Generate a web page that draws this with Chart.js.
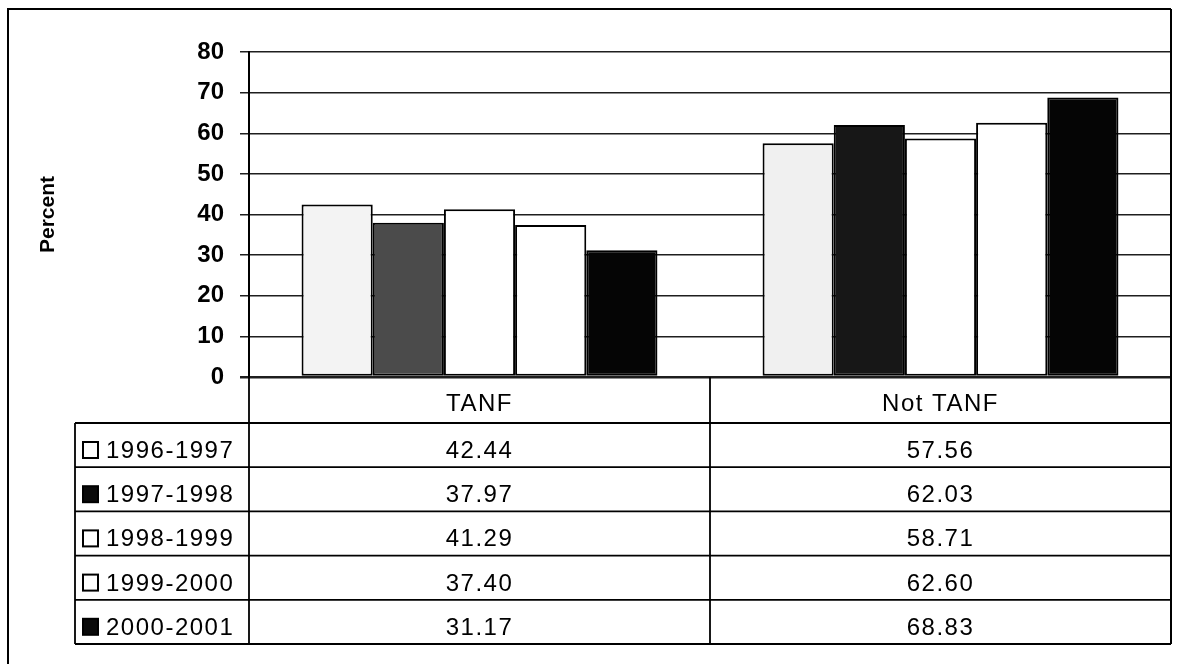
<!DOCTYPE html>
<html>
<head>
<meta charset="utf-8">
<script src="https://cdn.jsdelivr.net/npm/chart.js@4/dist/chart.umd.min.js"></script>
<style>
  html, body { margin: 0; padding: 0; background: #ffffff; }
  #wrap { width: 1180px; height: 664px; position: relative; }
</style>
</head>
<body>
<div id="wrap"><canvas id="chart" width="1180" height="664"></canvas></div>
<script>
// Categories and yearly series (percent)
const categories = ['TANF', 'Not TANF'];
const seriesNames = ['1996-1997', '1997-1998', '1998-1999', '1999-2000', '2000-2001'];
const y1996 = [42.44, 57.56];
const y1997 = [37.97, 62.03];
const y1998 = [41.29, 58.71];
const y1999 = [37.40, 62.60];
const y2000 = [31.17, 68.83];
const yTicks = [0, 10, 20, 30, 40, 50, 60, 70, 80];
const axisTitle = 'Percent';

const seriesValues = [y1996, y1997, y1998, y1999, y2000];

// Bar fills per series (per category where the print differs)
const fills = [
  ['#f3f3f3', '#f0f0f0'],
  ['#4b4b4b', '#171717'],
  ['#ffffff', '#ffffff'],
  ['#ffffff', '#ffffff'],
  ['#050505', '#050505']
];
// Swatch fills shown in the data table
const swatchFills = ['#ffffff', '#0a0a0a', '#ffffff', '#ffffff', '#0a0a0a'];

const FONT = '"Liberation Sans", Arial, sans-serif';
const HEADER_H = 46;
const ROW_H = 44.2;
const TABLE_LEFT = 75;

const tablePlugin = {
  id: 'dataTable',
  afterDraw(chart) {
    const ctx = chart.ctx;
    const area = chart.chartArea;
    const xs = chart.scales.x;
    const left = area.left, right = area.right, top = area.bottom;
    const mid = (xs.getPixelForValue(0) + xs.getPixelForValue(1)) / 2;
    const tableBottom = top + HEADER_H + ROW_H * seriesNames.length;

    ctx.save();
    ctx.strokeStyle = '#000';
    ctx.lineWidth = 2;

    // outer frame
    ctx.beginPath();
    ctx.moveTo(8, 664); ctx.lineTo(8, 9); ctx.lineTo(1171, 9);
    ctx.moveTo(1171, 9); ctx.lineTo(1171, tableBottom);
    ctx.stroke();

    // plot right edge
    ctx.beginPath();
    ctx.moveTo(right, area.top); ctx.lineTo(right, area.bottom);
    ctx.stroke();

    // table grid
    ctx.lineWidth = 1.8;
    ctx.beginPath();
    [left, mid, right].forEach(x => { ctx.moveTo(x, top); ctx.lineTo(x, tableBottom); });
    ctx.moveTo(TABLE_LEFT, top + HEADER_H); ctx.lineTo(TABLE_LEFT, tableBottom);
    for (let i = 0; i <= seriesNames.length; i++) {
      const y = top + HEADER_H + ROW_H * i;
      ctx.moveTo(TABLE_LEFT, y); ctx.lineTo(right, y);
    }
    ctx.stroke();

    // header labels
    ctx.fillStyle = '#000';
    ctx.font = '24px ' + FONT;
    ctx.letterSpacing = '1.5px';
    ctx.textAlign = 'center';
    ctx.textBaseline = 'alphabetic';
    categories.forEach((c, i) => {
      ctx.fillText(c, xs.getPixelForValue(i), top + 34);
    });

    // rows: swatch, series name, values
    seriesNames.forEach((name, r) => {
      const rowTop = top + HEADER_H + ROW_H * r;
      const base = rowTop + 35;
      // swatch
      ctx.fillStyle = swatchFills[r];
      ctx.fillRect(83, rowTop + 19, 15, 16);
      ctx.lineWidth = 2;
      ctx.strokeStyle = '#000';
      ctx.strokeRect(83, rowTop + 19, 15, 16);
      // name
      ctx.fillStyle = '#000';
      ctx.textAlign = 'left';
      ctx.fillText(name, 106, base);
      // values
      ctx.textAlign = 'center';
      seriesValues[r].forEach((v, i) => {
        ctx.fillText(v.toFixed(2), xs.getPixelForValue(i), base);
      });
    });

    // y axis title
    ctx.letterSpacing = '0px';
    ctx.translate(48, (area.top + area.bottom) / 2);
    ctx.rotate(-Math.PI / 2);
    ctx.font = 'bold 21px ' + FONT;
    ctx.textAlign = 'center';
    ctx.textBaseline = 'middle';
    ctx.fillText(axisTitle, 0, 0);
    ctx.restore();
  }
};

new Chart(document.getElementById('chart'), {
  type: 'bar',
  data: {
    labels: categories,
    datasets: seriesNames.map((name, i) => ({
      label: name,
      data: seriesValues[i],
      backgroundColor: fills[i],
      borderColor: '#000',
      borderWidth: 2,
      borderSkipped: false,
      categoryPercentage: 0.772,
      barPercentage: 1.0
    }))
  },
  options: {
    responsive: false,
    animation: false,
    devicePixelRatio: 1,
    layout: { padding: { left: 0, right: 9, top: 52, bottom: 287 } },
    plugins: {
      legend: { display: false },
      tooltip: { enabled: false },
      title: { display: false }
    },
    scales: {
      x: {
        display: false,
        offset: true
      },
      y: {
        min: 0,
        max: 80,
        afterFit(scale) { scale.width = 249; },
        afterBuildTicks(scale) { scale.ticks = yTicks.map(v => ({ value: v })); },
        ticks: {
          color: '#000',
          padding: 16,
          font: { family: FONT, size: 24, weight: 'bold' }
        },
        grid: {
          color: '#1e1e1e',
          lineWidth: ctx => (ctx.tick && ctx.tick.value === 0 ? 2.5 : 1.5),
          tickLength: 9,
          drawOnChartArea: true
        },
        border: { display: true, color: '#000', width: 2 }
      }
    }
  },
  plugins: [tablePlugin]
});
</script>
</body>
</html>
